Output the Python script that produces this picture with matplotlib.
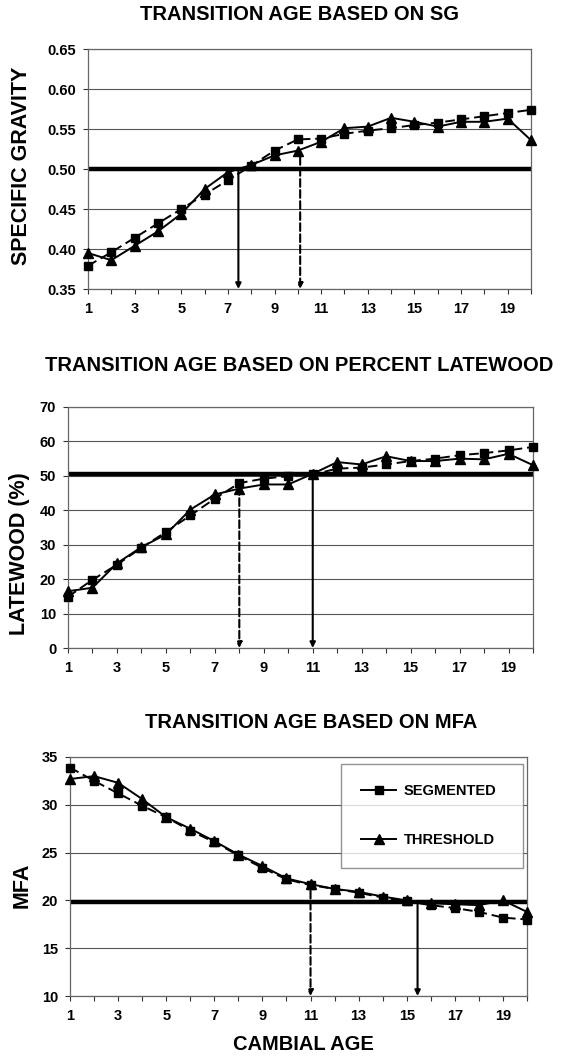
import matplotlib
matplotlib.use("Agg")
import matplotlib.pyplot as plt
from matplotlib.lines import Line2D
import numpy as np

plt.rcParams['font.family'] = ['Liberation Sans', 'DejaVu Sans']
plt.rcParams['font.weight'] = 'bold'

# ---- data ----
ages = list(range(1, 21))

sg_segmented = [0.379, 0.396, 0.414, 0.432, 0.450, 0.468, 0.486, 0.504, 0.523, 0.537,
                0.538, 0.544, 0.548, 0.551, 0.555, 0.558, 0.562, 0.566, 0.570, 0.574]
sg_threshold = [0.395, 0.386, 0.404, 0.422, 0.444, 0.475, 0.496, 0.505, 0.517, 0.523,
                0.534, 0.551, 0.553, 0.564, 0.559, 0.553, 0.559, 0.559, 0.563, 0.536]

lw_segmented = [14.9, 19.8, 24.2, 29.1, 33.7, 38.5, 43.4, 47.9, 49.2, 49.9,
                50.4, 52.1, 52.4, 53.3, 54.3, 55.0, 56.0, 56.6, 57.4, 58.4]
lw_threshold = [16.5, 17.5, 24.6, 29.3, 33.0, 40.2, 44.6, 46.3, 47.5, 47.5,
                50.6, 54.0, 53.3, 55.7, 54.3, 54.3, 55.0, 54.8, 56.4, 53.1]

mfa_segmented = [33.9, 32.5, 31.2, 29.9, 28.7, 27.3, 26.1, 24.7, 23.4, 22.2,
                 21.6, 21.2, 20.8, 20.3, 19.9, 19.5, 19.2, 18.8, 18.2, 18.0]
mfa_threshold = [32.7, 33.0, 32.3, 30.6, 28.7, 27.5, 26.2, 24.8, 23.6, 22.3,
                 21.7, 21.2, 20.9, 20.4, 20.0, 19.7, 19.6, 19.5, 20.0, 18.8]

# transition cut-off levels and arrows (age, start value, style)
sg_cut, lw_cut, mfa_cut = 0.50, 50.5, 19.8
sg_arrows = [(7.45, 0.50, '-'), (10.1, 0.515, '--')]
lw_arrows = [(8.0, 46.7, '--'), (11.0, 50.5, '-')]
mfa_arrows = [(11.0, 21.0, '--'), (15.45, 19.8, '-')]

titles = ["TRANSITION AGE BASED ON SG",
          "TRANSITION AGE BASED ON PERCENT LATEWOOD",
          "TRANSITION AGE BASED ON MFA"]
ylabels = ["SPECIFIC GRAVITY", "LATEWOOD (%)", "MFA"]

W, H = 567, 1058
fig = plt.figure(figsize=(W / 100, H / 100), dpi=100)


def px_axes(l, t, r, b):
    return fig.add_axes([l / W, 1 - b / H, (r - l) / W, (b - t) / H])


def draw_panel(ax, seg, thr, yticks, fmt, cut, arrows):
    ax.set_xlim(1, 20)
    ax.set_ylim(yticks[0], yticks[-1])
    ax.set_yticks(yticks)
    ax.set_yticklabels([fmt.format(v) for v in yticks])
    ax.set_xticks(ages)
    ax.set_xticklabels([str(a) if a % 2 == 1 else '' for a in ages])
    ax.tick_params(axis='both', labelsize=10.5, length=3.5, width=0.8, color='#333333')
    ax.tick_params(axis='x', pad=6)
    ax.tick_params(axis='y', pad=5)
    ax.grid(axis='y', color='#555555', lw=0.8)
    ax.set_axisbelow(True)
    for sp in ax.spines.values():
        sp.set_color('#666666')
        sp.set_linewidth(0.9)
    ax.axhline(cut, color='black', lw=3.2, zorder=2)
    ymin = yticks[0]
    for x, y0, ls in arrows:
        ax.annotate('', xy=(x, ymin), xytext=(x, y0),
                    arrowprops=dict(arrowstyle='-|>', color='black', lw=1.5,
                                    linestyle=ls, mutation_scale=8,
                                    shrinkA=0, shrinkB=0), zorder=3)
    ax.plot(ages, seg, color='black', lw=1.4, ls=(0, (5, 2.5)), marker='s',
            ms=6, zorder=4, clip_on=False)
    ax.plot(ages, thr, color='black', lw=1.4, ls='-', marker='^',
            ms=6.5, zorder=4, clip_on=False)


ax1 = px_axes(88, 49, 531, 289)
draw_panel(ax1, sg_segmented, sg_threshold, np.arange(0.35, 0.651, 0.05),
           '{:.2f}', sg_cut, sg_arrows)
ax2 = px_axes(68, 407, 533, 648)
draw_panel(ax2, lw_segmented, lw_threshold, list(range(0, 71, 10)),
           '{:d}', lw_cut, lw_arrows)
ax3 = px_axes(70, 757, 527, 996)
draw_panel(ax3, mfa_segmented, mfa_threshold, list(range(10, 36, 5)),
           '{:d}', mfa_cut, mfa_arrows)

# titles and axis labels placed in pixel positions
for (x, y), t in zip([(300, 14), (299, 365), (311, 722)], titles):
    fig.text(x / W, 1 - y / H, t, ha='center', va='center', fontsize=14.5,
             fontweight='bold')
for (x, y), t in zip([(22, 166), (20, 554), (22, 885)], ylabels):
    fig.text(x / W, 1 - y / H, t, ha='center', va='center', fontsize=15.5,
             fontweight='bold', rotation=90)
fig.text(303 / W, 1 - 1045 / H, "CAMBIAL AGE", ha='center', va='center',
         fontsize=14.5, fontweight='bold')

handles = [Line2D([], [], color='black', lw=1.4, marker='s', ms=6),
           Line2D([], [], color='black', lw=1.4, marker='^', ms=6.5)]
leg = ax3.legend(handles, ["SEGMENTED", "THRESHOLD"], loc='lower left',
                 bbox_to_anchor=(0.593, 0.536, 0.398, 0.422), mode='expand',
                 prop={'size': 10.5, 'weight': 'bold'}, frameon=True, fancybox=False,
                 edgecolor='#777777', borderpad=1.4, labelspacing=2.4,
                 handlelength=2.4, handletextpad=0.5, borderaxespad=0)
leg.get_frame().set_linewidth(1.0)

fig.savefig("out.png", dpi=100)
